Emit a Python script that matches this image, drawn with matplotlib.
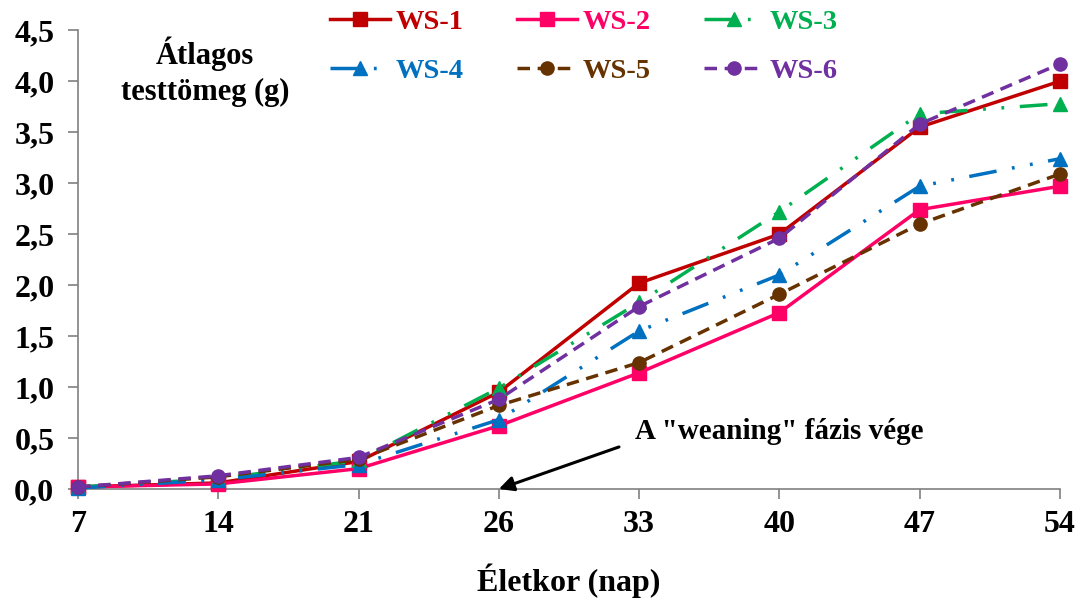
import matplotlib
matplotlib.use("Agg")
import matplotlib.pyplot as plt

# age (days) and average body weight (g) per group
ages = ["7", "14", "21", "26", "33", "40", "47", "54"]
ws1 = [0.02, 0.06, 0.27, 0.95, 2.02, 2.50, 3.55, 4.00]
ws2 = [0.02, 0.05, 0.20, 0.62, 1.14, 1.73, 2.74, 2.97]
ws3 = [0.02, 0.10, 0.28, 0.99, 1.83, 2.72, 3.68, 3.78]
ws4 = [0.01, 0.09, 0.24, 0.68, 1.55, 2.10, 2.97, 3.24]
ws5 = [0.02, 0.12, 0.29, 0.82, 1.24, 1.91, 2.60, 3.09]
ws6 = [0.02, 0.13, 0.31, 0.88, 1.79, 2.46, 3.58, 4.17]
names = ["WS-1", "WS-2", "WS-3", "WS-4", "WS-5", "WS-6"]
yticks = [0.0, 0.5, 1.0, 1.5, 2.0, 2.5, 3.0, 3.5, 4.0, 4.5]

colors = ["#C00000", "#FF0066", "#00B050", "#0070C0", "#663300", "#7030A0"]
markers = ["s", "s", "^", "^", "o", "o"]
dashdotdot = (0, (8, 4.5, 0.8, 4.5, 0.8, 4.5))
dashed = (0, (3.6, 2.2))
styles = ["-", "-", dashdotdot, dashdotdot, dashed, dashed]

plt.rcParams["font.family"] = "Liberation Serif"
plt.rcParams["font.weight"] = "bold"

fig = plt.figure(figsize=(10.86, 6.05), dpi=100)
ax = fig.add_axes([0.0718, 0.1917, 0.9042, 0.7583])

x = list(range(len(ages)))
series = [ws1, ws2, ws3, ws4, ws5, ws6]
lines = []
for vals, name, c, m, ls in zip(series, names, colors, markers, styles):
    ln, = ax.plot(x, vals, color=c, marker=m, linestyle=ls, linewidth=2.5,
                  markersize=9.5, label=name, clip_on=False, zorder=3)
    lines.append(ln)

ax.set_xlim(0, len(ages) - 1)
ax.set_ylim(0, 4.5)
ax.set_xticks(x)
ax.set_xticklabels(ages)
ax.set_yticks(yticks)
ax.set_yticklabels([f"{v:.1f}".replace(".", ",") for v in yticks])

for side in ["top", "right"]:
    ax.spines[side].set_visible(False)
for side in ["left", "bottom"]:
    ax.spines[side].set_color("#808080")
    ax.spines[side].set_linewidth(1.2)
ax.tick_params(axis="both", direction="out", length=7, width=1.2,
               color="#808080", labelsize=23)
ax.tick_params(axis="y", pad=10)
ax.tick_params(axis="x", pad=8)
for lbl in ax.get_xticklabels() + ax.get_yticklabels():
    lbl.set_fontweight("bold")

ax.set_xlabel("Életkor (nap)", fontsize=23, fontweight="bold", labelpad=18)
ax.text(0.905, 4.09, "Átlagos\ntesttömeg (g)", fontsize=22, fontweight="bold",
        ha="center", va="center", linespacing=1.3)

ax.annotate('A "weaning" fázis vége', xy=(3, 0), xytext=(3.97, 0.56),
            fontsize=21, fontweight="bold", ha="left", va="center",
            arrowprops=dict(arrowstyle="-|>", color="black", lw=2.2,
                            mutation_scale=22, shrinkA=10, shrinkB=0,
                            relpos=(0, 0.15)))

# legend filled row by row: WS-1 WS-2 WS-3 / WS-4 WS-5 WS-6
order = [0, 3, 1, 4, 2, 5]
leg = fig.legend([lines[i] for i in order], [names[i] for i in order],
                 ncol=3, loc="upper left", bbox_to_anchor=(0.304, 0.985),
                 frameon=False, handlelength=2.1, columnspacing=1.86,
                 handletextpad=0.21, labelspacing=0.8, borderpad=0,
                 borderaxespad=0, prop={"weight": "bold", "size": 20.5})
for txt, i in zip(leg.get_texts(), order):
    txt.set_color(colors[i])

fig.savefig("out.png", dpi=100)
